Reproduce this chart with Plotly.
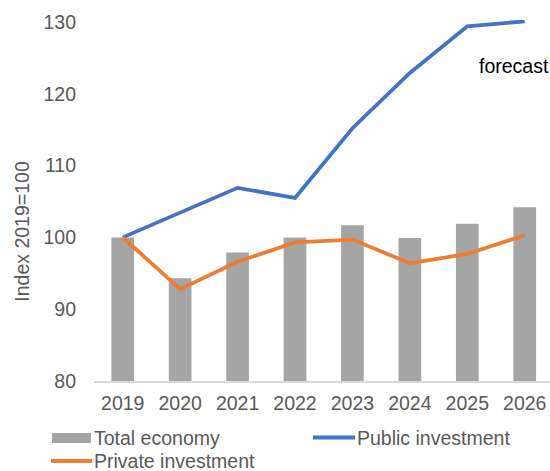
import plotly.graph_objects as go

years = ["2019", "2020", "2021", "2022", "2023", "2024", "2025", "2026"]
total_economy = [100.0, 94.3, 97.9, 100.0, 101.7, 99.9, 101.9, 104.2]
public_investment = [100.0, 103.4, 106.9, 105.5, 115.2, 122.9, 129.4, 130.1]
private_investment = [100.0, 92.8, 96.6, 99.3, 99.7, 96.4, 97.7, 100.3]
y_ticks = [80, 90, 100, 110, 120, 130]

W, H = 550, 471
L, R, T, B = 94, 0, 20, 90
PW, PH = W - L - R, H - T - B

def px(x):
    return (x - L) / PW

def py(y):
    return (H - B - y) / PH

FONT = "Liberation Sans, Arial, sans-serif"
GREY_TXT = "#595959"
C_BAR = "#A5A5A5"
C_PUB = "#4472C4"
C_PRI = "#ED7D31"

fig = go.Figure()
fig.add_trace(go.Bar(x=years, y=total_economy, name="Total economy",
                     marker=dict(color=C_BAR, line=dict(width=0)), width=0.395))
fig.add_trace(go.Scatter(x=years, y=public_investment, name="Public investment",
                         mode="lines", line=dict(color=C_PUB, width=3.75)))
fig.add_trace(go.Scatter(x=years, y=private_investment, name="Private investment",
                         mode="lines", line=dict(color=C_PRI, width=3.75)))

fig.update_layout(
    width=W, height=H,
    margin=dict(l=L, r=R, t=T, b=B, autoexpand=False),
    paper_bgcolor="white", plot_bgcolor="white",
    showlegend=False,
    font=dict(family=FONT, size=19.5, color=GREY_TXT),
    xaxis=dict(type="category", range=[-0.5, 7.44], showgrid=False,
               showline=True, linecolor="#D9D9D9", linewidth=1.5,
               ticks="", ticklabelstandoff=4, zeroline=False),
    yaxis=dict(range=[80, 80 + PH / 7.18], tickvals=y_ticks, showgrid=False,
               showline=False, zeroline=False, ticks="", ticklabelstandoff=17),
)

annotations = [
    dict(text="Index 2019=100", textangle=-90, x=px(21.7), y=py(231),
         xref="paper", yref="paper", xanchor="center", yanchor="middle",
         showarrow=False, font=dict(size=19.5, color=GREY_TXT)),
    dict(text="forecast", x=px(514), y=py(66), xref="paper", yref="paper",
         xanchor="center", yanchor="middle", showarrow=False,
         font=dict(size=19.5, color="#000000")),
    dict(text="Total economy", x=px(92), y=py(438), xref="paper", yref="paper",
         xanchor="left", yanchor="middle", showarrow=False),
    dict(text="Public investment", x=px(355), y=py(438), xref="paper", yref="paper",
         xanchor="left", yanchor="middle", showarrow=False),
    dict(text="Private investment", x=px(92), y=py(461), xref="paper", yref="paper",
         xanchor="left", yanchor="middle", showarrow=False),
]
fig.update_layout(annotations=annotations)

shapes = [
    dict(type="rect", xref="paper", yref="paper", x0=px(52), x1=px(91),
         y0=py(433), y1=py(443), fillcolor=C_BAR, line=dict(width=0)),
    dict(type="line", xref="paper", yref="paper", x0=px(313), x1=px(355),
         y0=py(437.5), y1=py(437.5), line=dict(color=C_PUB, width=4)),
    dict(type="line", xref="paper", yref="paper", x0=px(51), x1=px(92),
         y0=py(461), y1=py(461), line=dict(color=C_PRI, width=4)),
]
fig.update_layout(shapes=shapes)

fig.write_html("out.html",
               config={"displayModeBar": False},
               post_script="document.body.style.margin='0';document.body.style.overflow='hidden';")
